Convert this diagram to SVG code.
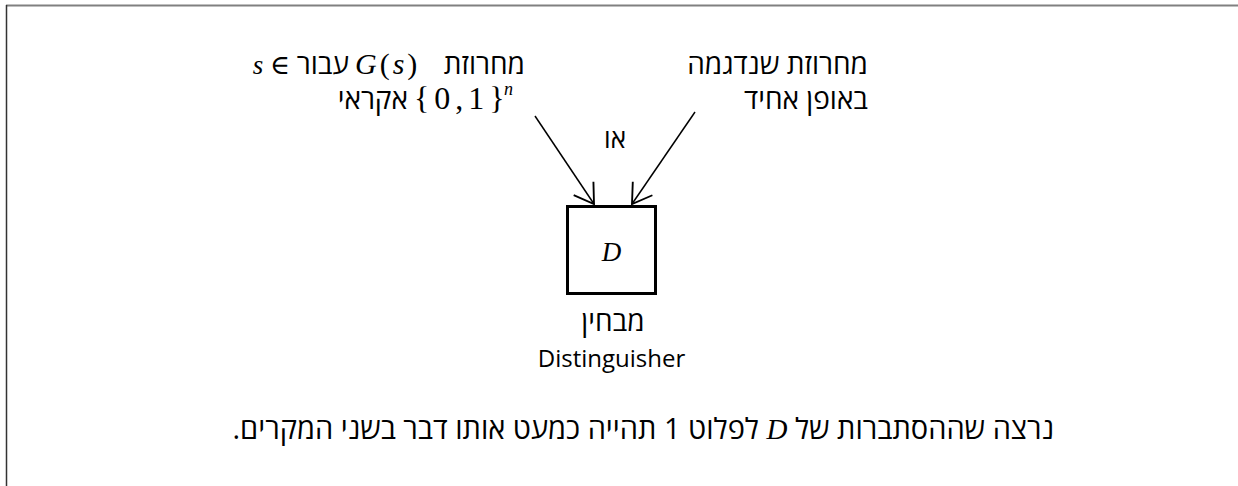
<svg xmlns="http://www.w3.org/2000/svg" width="1238" height="486" viewBox="0 0 1238 486">
<style>
.heb{font-family:"Open Sans","Liberation Sans","DejaVu Sans",sans-serif;font-size:28px;fill:#000}
.lat{font-family:"Open Sans","Liberation Sans",sans-serif;font-size:24px;fill:#000}
.math{font-family:"Liberation Serif","DejaVu Serif",serif;font-size:27px;fill:#000}
.it{font-style:italic}
.conn{stroke:#000;stroke-width:1.5;fill:none}
</style>
<defs>
<marker id="arr" markerUnits="userSpaceOnUse" markerWidth="30" markerHeight="30" viewBox="-20 -12 22 24" refX="0" refY="0" orient="auto">
<path d="M-15,-9.5 L0,0 L-15,9.5" fill="none" stroke="#000" stroke-width="1.5"/>
</marker>
</defs>
<rect width="1238" height="486" fill="#fff"/>
<g id="frame">
<line x1="6" y1="5.5" x2="1238" y2="5.5" stroke="#808080" stroke-width="2"/>
<line x1="6.5" y1="5" x2="6.5" y2="486" stroke="#333" stroke-width="1.5"/>
</g>
<g id="connectors">
<line class="conn" x1="535" y1="116" x2="594" y2="204" marker-end="url(#arr)"/>
<line class="conn" x1="695" y1="112" x2="632" y2="204" marker-end="url(#arr)"/>
</g>
<g id="label-pseudo">
<text class="heb" x="525" y="74" text-anchor="end">מחרוזת</text>
<text class="math" x="355" y="74" style="font-size:30px;letter-spacing:3px"><tspan class="it">G</tspan>(<tspan class="it">s</tspan>)</text>
<text class="heb" x="349" y="74" text-anchor="end">עבור</text>
<text class="math" x="290" y="74" text-anchor="end"><tspan class="it">s</tspan> ∈</text>
<text class="math" x="414" y="109" style="font-size:32px;letter-spacing:5px">{0,1}</text>
<text class="math it" x="504" y="95" style="font-size:18px">n</text>
<text class="heb" x="408" y="109" text-anchor="end">אקראי</text>
</g>
<g id="label-uniform">
<text class="heb" x="868" y="74" text-anchor="end">מחרוזת שנדגמה</text>
<text class="heb" x="868" y="109" text-anchor="end">באופן אחיד</text>
</g>
<g id="label-or">
<text class="heb" x="615" y="148" text-anchor="middle" style="font-size:26px">או</text>
</g>
<g id="distinguisher">
<rect x="567.5" y="206.5" width="88" height="87" fill="none" stroke="#000" stroke-width="3"/>
<text class="math it" x="611.5" y="261" text-anchor="middle">D</text>
<text class="heb" x="613" y="331" text-anchor="middle">מבחין</text>
<text class="lat" x="611.5" y="367" text-anchor="middle">Distinguisher</text>
</g>
<g id="caption">
<text class="heb" x="1054" y="439" direction="rtl" text-anchor="start" style="font-size:29px">נרצה שההסתברות של <tspan class="math it" style="font-size:29px">D</tspan> לפלוט 1 תהייה כמעט אותו דבר בשני המקרים.</text>
</g>
</svg>
